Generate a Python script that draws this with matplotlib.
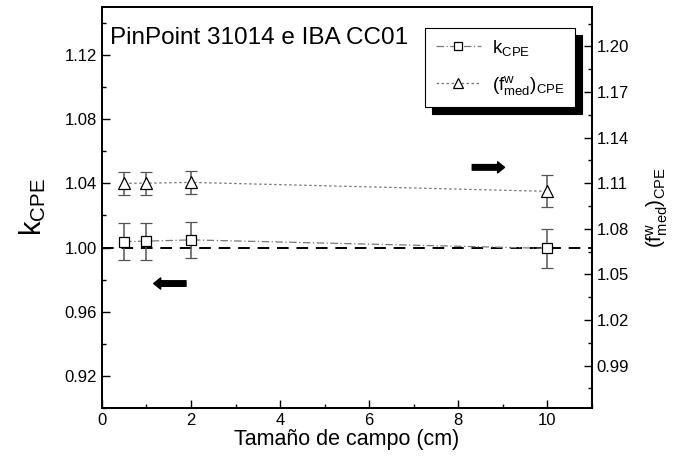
import matplotlib
matplotlib.use("Agg")
import matplotlib.pyplot as plt
from matplotlib.lines import Line2D
from matplotlib.ticker import MultipleLocator

plt.rcParams["font.family"] = ["Liberation Sans", "DejaVu Sans"]
plt.rcParams["mathtext.fontset"] = "custom"
plt.rcParams["mathtext.rm"] = "Liberation Sans"
plt.rcParams["mathtext.it"] = "Liberation Sans"

# datos
campo = [0.5, 1, 2, 10]
k_cpe = [1.0037, 1.0040, 1.0048, 0.9995]
k_err = [0.0115, 0.0115, 0.0112, 0.0120]
f_cpe = [1.1099, 1.1100, 1.1105, 1.1046]
f_err = [0.0076, 0.0076, 0.0078, 0.0105]

fig = plt.figure(figsize=(6.75, 4.59), dpi=100)
ax = fig.add_axes([0.151, 0.111, 0.726, 0.874])
ax2 = ax.twinx()

ax.axhline(1.0, color="black", ls=(0, (6, 4)), lw=1.4, zorder=1)

estilo_k = dict(ls=(0, (6, 2, 1, 2)), lw=0.9, color="#777777",
                marker="s", mfc="white", mec="black", ms=7, mew=0.9)
estilo_f = dict(ls=(0, (2, 2)), lw=0.9, color="#777777",
                marker="^", mfc="white", mec="black", ms=8, mew=0.9)

ax.errorbar(campo, k_cpe, yerr=k_err, ecolor="#555555", elinewidth=1.1,
            capsize=4, zorder=3, **estilo_k)
ax2.errorbar(campo, f_cpe, yerr=f_err, ecolor="#555555", elinewidth=1.1,
             capsize=4, zorder=3, **estilo_f)

ax.set_xlim(0, 11)
ax.set_ylim(0.90, 1.15)
ax2.set_ylim(0.962, 1.226)

ax.xaxis.set_major_locator(MultipleLocator(2))
ax.xaxis.set_minor_locator(MultipleLocator(1))
ax.yaxis.set_minor_locator(MultipleLocator(0.02))
ax.set_yticks([0.92, 0.96, 1.00, 1.04, 1.08, 1.12])
ax2.set_yticks([0.99, 1.02, 1.05, 1.08, 1.11, 1.14, 1.17, 1.20])
ax2.yaxis.set_minor_locator(MultipleLocator(0.015))

ax.yaxis.set_major_formatter(plt.FormatStrFormatter("%.2f"))
ax2.yaxis.set_major_formatter(plt.FormatStrFormatter("%.2f"))

ax.tick_params(axis="both", which="both", direction="in", top=False, right=False,
               labelsize=12)
ax.tick_params(which="major", length=6, width=1)
ax.tick_params(which="minor", length=3, width=1)
ax2.tick_params(axis="y", which="both", direction="in", labelsize=12)
ax2.tick_params(which="major", length=6, width=1)
ax2.tick_params(which="minor", length=3, width=1)
for a in (ax, ax2):
    for s in a.spines.values():
        s.set_linewidth(1.3)

ax.set_xlabel("Tamaño de campo (cm)", fontsize=15.5, labelpad=1)
ax.set_ylabel(r"k$_{\mathrm{CPE}}$", fontsize=21, labelpad=12)
ax2.set_ylabel(r"(f$^{\mathrm{w}}_{\mathrm{med}}$)$_{\mathrm{CPE}}$", fontsize=15,
               rotation=90, labelpad=11)

ax.text(0.18, 1.1305, "PinPoint 31014 e IBA CC01", fontsize=17.5, va="center")

# flechas indicando el eje de cada serie
ax.annotate("", xy=(1.1, 0.9776), xytext=(1.95, 0.9776),
            arrowprops=dict(arrowstyle="simple,head_width=0.8,tail_width=0.4",
                            color="black"))
ax.annotate("", xy=(9.1, 1.050), xytext=(8.25, 1.050),
            arrowprops=dict(arrowstyle="simple,head_width=0.8,tail_width=0.4",
                            color="black"))

h1 = Line2D([], [], **estilo_k)
h2 = Line2D([], [], **estilo_f)
h1.set_markersize(6)
h2.set_markersize(7)
leg = ax2.legend([h1, h2], [r"k$_{\mathrm{CPE}}$",
                            r"(f$^{\mathrm{w}}_{\mathrm{med}}$)$_{\mathrm{CPE}}$"],
                 loc="upper right", bbox_to_anchor=(0.965, 0.948), fontsize=13.5,
                 frameon=True, fancybox=False, edgecolor="black",
                 shadow={"color": "black", "alpha": 1, "ox": 5, "oy": -5},
                 handlelength=2.4, borderpad=0.55, labelspacing=0.85,
                 handletextpad=0.6, borderaxespad=0)
leg.get_frame().set_linewidth(0.8)

fig.savefig("out.png", dpi=100)
